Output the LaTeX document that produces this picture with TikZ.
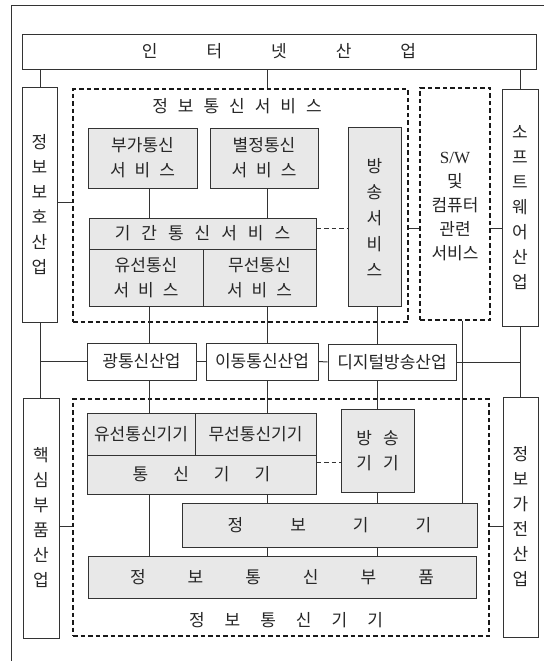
\documentclass[tikz,border=0pt]{standalone}
\usepackage{fontspec}
\newfontfamily\kr{Noto Sans CJK KR}
\newfontfamily\lat{Liberation Serif}
\newcommand\kg[1]{\hspace{#1pt}}
\begin{document}
\begin{tikzpicture}[x=1pt,y=-1pt,
  box/.style={draw=black!80, line width=1pt, inner sep=0pt, align=center, font=\kr\fontsize{17}{25}\selectfont, text=black!85},
  gbox/.style={box, fill=black!9},
  dbox/.style={draw=black!90, line width=1.4pt, dash pattern=on 4.5pt off 3pt, inner sep=0pt},
  ln/.style={draw=black!80, line width=1pt},
  dl/.style={ln, dash pattern=on 4.5pt off 3pt},
  lbl/.style={font=\kr\fontsize{17}{20}\selectfont, text=black!85, inner sep=0pt}
]
\fill[white] (0,0) rectangle (544,662);
\useasboundingbox (0,0) rectangle (544,662);
% outer frame (cropped)
\coordinate (o1) at (544,5); \coordinate (o2) at (11,5); \coordinate (o3) at (11,661);
\draw[ln] (o1) -- (o2) -- (o3);
% column / row coordinates
\coordinate (cL) at (40,0);
\coordinate (c1) at (149.5,0);
\coordinate (c2) at (267,0);
\coordinate (c3) at (377,0);
\coordinate (c4) at (462,0);
\coordinate (cR) at (520,0);
\coordinate (r1) at (0,228);
\coordinate (r2) at (0,462);
\coordinate (r3) at (0,526);
\coordinate (r4) at (0,202);

% top
\node[box, minimum width=514pt, minimum height=35pt] (inet) at (279,51.5) {인\kg{49}터\kg{49}넷\kg{49}산\kg{49}업};
% side boxes
\node[box, minimum width=35pt, minimum height=235pt] (ib) at (39.5,204.5) {정\\보\\보\\호\\산\\업};
\node[box, minimum width=36pt, minimum height=237pt] (sw) at (520,207.5) {소\\프\\트\\웨\\어\\산\\업};
\node[box, minimum width=36pt, minimum height=240pt] (core) at (41,518) {핵\\심\\부\\품\\산\\업};
\node[box, minimum width=35pt, minimum height=240pt] (app) at (520.5,517) {정\\보\\가\\전\\산\\업};

% services group
\node[dbox, minimum width=335pt, minimum height=233pt] (svc) at (240.5,205.5) {};
\node[lbl] (svct) at (237,106) {정\kg{10}보\kg{10}통\kg{10}신\kg{10}서\kg{10}비\kg{10}스};
\node[dbox, minimum width=70pt, minimum height=232pt] (swd) at (455,204) {};
\node[lbl, align=center, font=\kr\fontsize{17}{24}\selectfont] (swt) at (455,207) {{\lat S/W}\\및\\컴퓨터\\관련\\서비스};

\node[gbox, minimum width=109pt, minimum height=60pt] (buga) at (142.5,158) {부가통신\\서\kg{9}비\kg{9}스};
\node[gbox, minimum width=108pt, minimum height=60pt] (byul) at (264,158) {별정통신\\서\kg{9}비\kg{9}스};
\node[gbox, minimum width=53pt, minimum height=179pt, font=\kr\fontsize{17}{26}\selectfont] (bang) at (374.5,217) {방\\송\\서\\비\\스};
\node[gbox, minimum width=227pt, minimum height=31pt] (gigan) at (202.5,233.5) {기\kg{11}간\kg{11}통\kg{11}신\kg{11}서\kg{11}비\kg{11}스};
\node[gbox, minimum width=114pt, minimum height=57pt] (yu) at (146,277.5) {유선통신\\서\kg{9}비\kg{9}스};
\node[gbox, minimum width=113pt, minimum height=57pt] (mu) at (259.5,277.5) {무선통신\\서\kg{9}비\kg{9}스};

% middle industries
\node[box, minimum width=109pt, minimum height=37pt] (opt) at (141.5,361.5) {광통신산업};
\node[box, minimum width=112pt, minimum height=37pt] (mob) at (262,361.5) {이동통신산업};
\node[box, minimum width=128pt, minimum height=36pt] (dig) at (392,362) {디지털방송산업};

% equipment group
\node[dbox, minimum width=416pt, minimum height=237pt] (equip) at (281,517.5) {};
\node[lbl] (equipt) at (286,620) {정\kg{20}보\kg{20}통\kg{20}신\kg{20}기\kg{20}기};
\node[gbox, minimum width=108pt, minimum height=42pt] (yue) at (141,434) {유선통신기기};
\node[gbox, minimum width=121pt, minimum height=42pt] (mue) at (255.5,434) {무선통신기기};
\node[gbox, minimum width=229pt, minimum height=39pt] (tong) at (201.5,474.5) {통\kg{25}신\kg{25}기\kg{25}기};
\node[gbox, minimum width=73pt, minimum height=83pt] (bange) at (377.5,450.5) {방\kg{11}송\\기\kg{11}기};
\node[gbox, minimum width=295pt, minimum height=44pt] (info) at (329.5,525) {정\kg{47}보\kg{47}기\kg{47}기};
\node[gbox, minimum width=388pt, minimum height=42pt] (part) at (282,577) {정\kg{42}보\kg{42}통\kg{42}신\kg{42}부\kg{42}품};

% connectors
\draw[ln] (ib.north -| cL) -- (inet.south -| cL);
\draw[ln] (inet.south -| c2) -- (svc.north -| c2);
\draw[ln] (inet.south -| cR) -- (sw.north -| cR);
\draw[ln] (ib.east |- r4) -- (svc.west |- r4);
\draw[ln] (svc.east |- r1) -- (swd.west |- r1);
\draw[ln] (swd.east |- r1) -- (sw.west |- r1);
\draw[ln] (buga.south -| c1) -- (gigan.north -| c1);
\draw[ln] (byul.south -| c2) -- (gigan.north -| c2);
\draw[dl] (gigan.east |- r1) -- (bang.west |- r1);
\draw[ln] (yu.south -| c1) -- (opt.north -| c1);
\draw[ln] (mu.south -| c2) -- (mob.north -| c2);
\draw[ln] (bang.south -| c3) -- (dig.north -| c3);
\draw[ln] (opt.east) -- (mob.west);
\draw[ln] (mob.east) -- (dig.west);
\draw[ln] (ib.south -| cL) -- (core.north -| cL);
\draw[ln] (opt.west -| cL) -- (opt.west);
\draw[ln] (sw.south -| cR) -- (app.north -| cR);
\draw[ln] (dig.east) -- (dig.east -| cR);
\draw[ln] (swd.south -| c4) -- (info.north -| c4);
\draw[ln] (opt.south -| c1) -- (yue.north -| c1);
\draw[ln] (mob.south -| c2) -- (mue.north -| c2);
\draw[ln] (dig.south -| c3) -- (bange.north -| c3);
\draw[dl] (tong.east |- r2) -- (bange.west |- r2);
\draw[ln] (tong.south -| c1) -- (part.north -| c1);
\draw[ln] (tong.south -| c2) -- (info.north -| c2);
\draw[ln] (bange.south -| c3) -- (info.north -| c3);
\draw[ln] (info.south -| c2) -- (part.north -| c2);
\draw[ln] (info.south -| c3) -- (part.north -| c3);
\draw[ln] (core.east |- r3) -- (equip.west |- r3);
\draw[ln] (equip.east |- r3) -- (app.west |- r3);
\end{tikzpicture}
\end{document}
